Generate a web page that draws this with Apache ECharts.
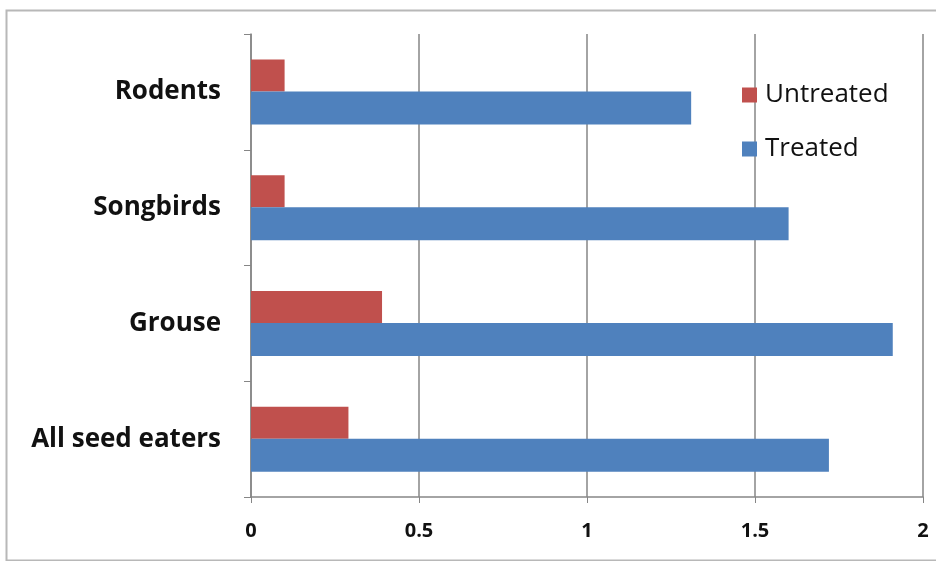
<!DOCTYPE html>
<html>
<head>
<meta charset="utf-8">
<script src="https://cdn.jsdelivr.net/npm/echarts@6/dist/echarts.min.js"></script>
<style>html,body{margin:0;padding:0;background:#fff}#c{width:936px;height:561px}</style>
</head>
<body>
<div id="c"></div>
<script>
const categories = ['Rodents', 'Songbirds', 'Grouse', 'All seed eaters'];
const untreated = [0.1, 0.1, 0.39, 0.29];
const treated = [1.31, 1.6, 1.91, 1.72];
const xTicks = [0, 0.5, 1, 1.5, 2];

const chart = echarts.init(document.getElementById('c'));
const font = '"Open Sans"';
chart.setOption({
  animation: false,
  backgroundColor: '#fff',
  graphic: [{
    type: 'rect', left: 4, top: 8,
    shape: { width: 960, height: 550 },
    style: { fill: 'none', stroke: '#b8b8b8', lineWidth: 2 },
    silent: true
  }],
  grid: { left: 251, right: 13, top: 34, bottom: 64 },
  legend: {
    orient: 'vertical', left: 737, top: 77,
    itemWidth: 15, itemHeight: 15, itemGap: 28,
    icon: 'rect',
    textStyle: { fontFamily: font, fontSize: 26, color: '#111', padding: [0, 0, 0, 3] },
    data: ['Untreated', 'Treated']
  },
  xAxis: {
    type: 'value', min: xTicks[0], max: xTicks[xTicks.length - 1], interval: 0.5,
    axisLine: { show: true, lineStyle: { color: '#868686', width: 1.5 } },
    axisTick: { show: true, length: 6, lineStyle: { color: '#868686' } },
    splitLine: { show: true, lineStyle: { color: '#868686', width: 1.5 } },
    axisLabel: { fontFamily: font, fontSize: 20, fontWeight: 'bold', color: '#111', margin: 24 }
  },
  yAxis: {
    type: 'category', data: categories, inverse: true,
    axisLine: { show: true, lineStyle: { color: '#868686', width: 1.5 } },
    axisTick: { show: true, length: 7, lineStyle: { color: '#868686' } },
    axisLabel: { fontFamily: font, fontSize: 26, fontWeight: 'bold', color: '#111', margin: 30,
      padding: [5, 0, 0, 0] }
  },
  series: [
    { name: 'Untreated', type: 'bar', data: untreated, barWidth: 32, barGap: '0%',
      itemStyle: { color: '#C0504D' } },
    { name: 'Treated', type: 'bar', data: treated, barWidth: 33, barGap: '0%',
      itemStyle: { color: '#4F81BD' } }
  ]
});
</script>
</body>
</html>
